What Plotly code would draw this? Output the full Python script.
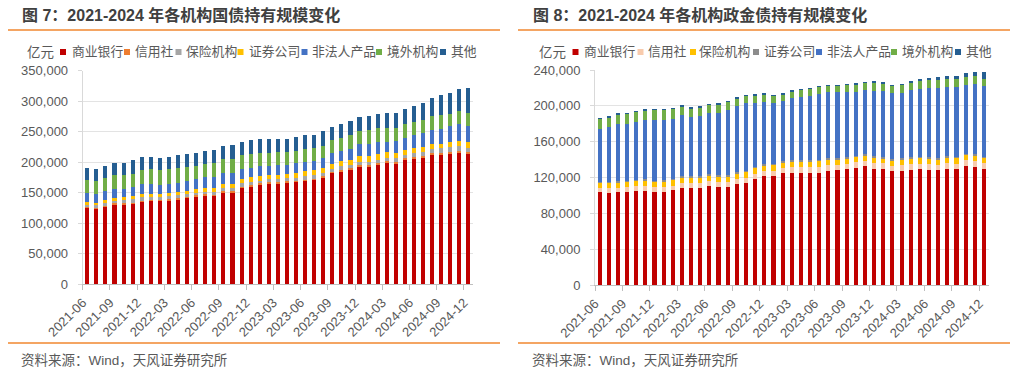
import plotly.graph_objects as go

W, H = 1014, 381

months = ["2021-06", "2021-07", "2021-08", "2021-09", "2021-10", "2021-11", "2021-12",
          "2022-01", "2022-02", "2022-03", "2022-04", "2022-05", "2022-06", "2022-07",
          "2022-08", "2022-09", "2022-10", "2022-11", "2022-12",
          "2023-01", "2023-02", "2023-03", "2023-04", "2023-05", "2023-06", "2023-07",
          "2023-08", "2023-09", "2023-10", "2023-11", "2023-12",
          "2024-01", "2024-02", "2024-03", "2024-04", "2024-05", "2024-06", "2024-07",
          "2024-08", "2024-09", "2024-10", "2024-11", "2024-12"]

tick_labels = ["2021-06", "2021-09", "2021-12", "2022-03", "2022-06", "2022-09", "2022-12",
               "2023-03", "2023-06", "2023-09", "2023-12", "2024-03", "2024-06", "2024-09",
               "2024-12"]

names_L = ["商业银行", "信用社", "保险机构", "证券公司", "非法人产品", "境外机构", "其他"]
names_R = ["商业银行", "信用社", "保险机构", "证券公司", "非法人产品", "境外机构", "其他"]

# ---- Figure 7: 国债 (亿元) ----
bank_L = [124700, 122500, 126400, 130200, 130200, 131300, 134000, 135700, 135700, 136800,
          138400, 140600, 142800, 145000, 143900, 149900, 149900, 157000, 159700, 163000,
          164600, 164600, 166300, 166800, 168500, 170100, 173900, 181600, 183800, 187100,
          192000, 192000, 194700, 198000, 197500, 203500, 205700, 207300, 211100, 211700,
          213900, 215000, 213900]
credit_L = [2000, 2000, 2100, 2100, 2200, 2200, 2300, 2300, 2300, 2400, 2400, 2400, 2500,
            2500, 2500, 2600, 2600, 2700, 2700, 2700, 2800, 2800, 2800, 2900, 2900, 2900,
            3000, 3000, 3000, 3000, 3100, 3100, 3100, 3200, 3200, 3200, 3300, 3300, 3300,
            3400, 3400, 3400, 3500]
insur_L = [3500, 4500, 5000, 4500, 6000, 6600, 7000, 5400, 5400, 5300, 5800, 4700, 4600,
           4100, 4100, 5600, 5100, 6100, 5000, 4000, 4300, 4900, 4300, 4800, 5900, 5900,
           4700, 4700, 6800, 5800, 5700, 5700, 5700, 6100, 6100, 5600, 5500, 6500, 6500,
           7500, 7000, 8100, 6300]
secur_L = [4400, 3300, 4400, 4900, 3800, 3800, 4400, 4400, 3800, 4400, 4400, 4900, 6000,
           6600, 7700, 6000, 6000, 6600, 7700, 7700, 7100, 7100, 7100, 7100, 7700, 7700,
           8800, 7700, 7700, 7700, 9300, 9300, 9800, 9300, 8200, 8200, 9300, 7100, 8200,
           7100, 8800, 8200, 8800]
prod_L = [14800, 14800, 14200, 13700, 13700, 14800, 16400, 15900, 14800, 14800, 14800,
          16400, 16400, 17000, 18100, 17500, 18600, 16400, 15900, 16400, 15300, 15900,
          15300, 16400, 15900, 15300, 17000, 17500, 16400, 18100, 19100, 19700, 19700,
          16400, 19100, 19100, 21300, 23500, 23500, 25200, 26300, 28400, 27400]
foreign_L = [21300, 21300, 22400, 23000, 22400, 22400, 23500, 25200, 25200, 24600, 24600,
             23500, 21900, 22400, 22400, 23500, 23500, 23000, 23000, 21300, 20800, 21300,
             21300, 20800, 21300, 21300, 19700, 21300, 21300, 22400, 21900, 23000, 23000,
             23000, 21900, 23000, 20800, 21900, 23000, 22400, 20200, 20200, 20200]
other_L = [20200, 20800, 19700, 20200, 20800, 22400, 20200, 20200, 19700, 20800, 20800,
           20800, 21300, 21300, 21300, 21300, 21900, 20800, 22400, 22400, 22400, 21300,
           21300, 21900, 21900, 21900, 23500, 22400, 23500, 23500, 23500, 23000, 23000,
           24100, 24100, 25200, 26300, 26800, 30100, 32300, 33400, 36100, 41000]

# ---- Figure 8: 政金债 (亿元) ----
bank_R = [103400, 102700, 103400, 104200, 104900, 104500, 104200, 104200, 105600, 108600,
          107900, 108600, 110900, 109400, 109400, 112300, 113800, 118300, 121300, 122000,
          124600, 125400, 125400, 125400, 125400, 126900, 128000, 129100, 130200, 132400,
          129800, 129800, 126900, 127600, 128300, 129800, 128700, 128000, 129800, 129100,
          132800, 132100, 129100]
credit_R = [4800, 5200, 5200, 5200, 5200, 5600, 5200, 5200, 5200, 5200, 5600, 5600, 5600,
            5600, 5600, 5600, 6000, 6000, 5600, 5600, 6300, 6700, 6700, 6700, 6700, 6700,
            5600, 6300, 7100, 6300, 6700, 6000, 6000, 6000, 6300, 5600, 6000, 6000, 6000,
            6300, 6300, 6700, 7100]
insur_R = [5200, 5600, 5200, 5200, 5600, 6000, 5600, 5600, 6000, 6000, 6000, 5600, 5600,
           6000, 6000, 6000, 6000, 6000, 6000, 6000, 5600, 5600, 5600, 5600, 6000, 6000,
           6000, 5600, 5200, 5600, 5200, 5200, 6000, 6000, 6000, 6000, 6000, 6000, 6000,
           6000, 5600, 5200, 5200]
secur_R = [1500, 1500, 1900, 1900, 1900, 1900, 1500, 1900, 1900, 1900, 1900, 1900, 1900,
           1900, 1900, 1900, 1900, 1900, 1900, 1900, 1500, 1900, 1900, 1900, 1900, 1900,
           1900, 1900, 1900, 1900, 1900, 1900, 1900, 1900, 1900, 1900, 1900, 1900, 1900,
           1900, 1900, 1900, 1900]
prod_R = [59100, 61000, 64400, 63600, 64400, 66200, 67700, 67300, 66600, 67700, 65800,
          67000, 67700, 69600, 72900, 74400, 75100, 71400, 69900, 68100, 67700, 69600,
          70700, 71800, 73700, 73700, 73700, 72900, 71400, 71100, 73300, 73700, 73300,
          73300, 75500, 75900, 77700, 78500, 77700, 77700, 77000, 78900, 78900]
foreign_R = [10800, 10800, 9700, 10400, 10800, 10400, 10800, 10800, 10800, 9700, 9700,
             9300, 9300, 8900, 8200, 7800, 8200, 7800, 7800, 7400, 6700, 6700, 7100, 7400,
             7100, 7100, 7100, 7100, 7800, 7800, 8200, 7800, 7800, 8200, 7800, 8900, 8600,
             8600, 8200, 8900, 8900, 8900, 8200]
other_R = [1900, 1900, 1900, 1900, 1500, 2200, 1500, 1500, 1500, 2200, 1900, 1900, 1500,
           1500, 1500, 1900, 1500, 1900, 1500, 1500, 1900, 1900, 1500, 1500, 1900, 1500,
           1500, 1500, 1500, 1500, 2200, 1900, 1900, 1900, 1900, 1900, 2600, 3300, 3300,
           3700, 4100, 4100, 7800]

series_L = [bank_L, credit_L, insur_L, secur_L, prod_L, foreign_L, other_L]
series_R = [bank_R, credit_R, insur_R, secur_R, prod_R, foreign_R, other_R]

colors_L = ["#C00000", "#ED7D31", "#A5A5A5", "#FFC000", "#4472C4", "#70AD47", "#255E91"]
colors_R = ["#C00000", "#F8CBAD", "#FFC000", "#8C8C8C", "#4472C4", "#70AD47", "#255E91"]

CJK = "Noto Sans CJK SC"
NUMF = "Liberation Sans, Noto Sans CJK SC"

xpos = list(range(len(months)))
tickpos = [xpos[months.index(m)] - 0.5 for m in tick_labels]

fig = go.Figure()
for nm, vals, col in zip(names_L, series_L, colors_L):
    fig.add_trace(go.Bar(x=xpos, y=vals, name=nm, marker=dict(color=col, line=dict(width=0)),
                         xaxis="x", yaxis="y", showlegend=False))
for nm, vals, col in zip(names_R, series_R, colors_R):
    fig.add_trace(go.Bar(x=xpos, y=vals, name=nm, marker=dict(color=col, line=dict(width=0)),
                         xaxis="x2", yaxis="y2", showlegend=False))


def px_x(v):
    return v / W


def px_y(v):
    return 1 - v / H


def xaxis_cfg(x0, x1, anchor):
    return dict(domain=[px_x(x0), px_x(x1)], range=[-0.5, len(months) - 0.5],
                tickmode="array", tickvals=tickpos, ticktext=tick_labels, tickangle=-45,
                ticks="outside", ticklen=5, tickcolor="#BFBFBF", showline=True,
                linecolor="#BFBFBF", linewidth=1, showgrid=False, zeroline=False,
                anchor=anchor, tickfont=dict(family=NUMF, size=13, color="#595959"),
                automargin=False, fixedrange=True)


def yaxis_cfg(y_bottom, y_top, ymax, dtick, anchor):
    return dict(domain=[px_y(y_bottom), px_y(y_top)], range=[0, ymax], dtick=dtick,
                tickformat=",", showgrid=True, gridcolor="#E3E3E3", gridwidth=1,
                showline=True, linecolor="#D9D9D9", ticks="outside", ticklen=4,
                tickcolor="#D9D9D9", zeroline=False, anchor=anchor,
                tickfont=dict(family=NUMF, size=13, color="#595959"),
                ticklabelstandoff=7, automargin=False, fixedrange=True)


annotations = []
shapes = []


def panel_decor(x_left, line_x0, line_x1, title, unit_x, legend_sq, legend_tx, names, colors):
    annotations.append(dict(text="<b>" + title + "</b>", x=px_x(x_left), y=px_y(15),
                            xref="paper", yref="paper", xanchor="left", yanchor="middle",
                            showarrow=False,
                            font=dict(family="Liberation Sans, " + CJK, size=16, color="#404040")))
    annotations.append(dict(text="资料来源：Wind，天风证券研究所", x=px_x(x_left - 1), y=px_y(360),
                            xref="paper", yref="paper", xanchor="left", yanchor="middle",
                            showarrow=False,
                            font=dict(family=NUMF, size=13.5, color="#595959")))
    annotations.append(dict(text="亿元", x=px_x(unit_x), y=px_y(51), xref="paper", yref="paper",
                            xanchor="left", yanchor="middle", showarrow=False,
                            font=dict(family=CJK, size=13.5, color="#595959")))
    for sx, tx, nm, col in zip(legend_sq, legend_tx, names, colors):
        shapes.append(dict(type="rect", xref="paper", yref="paper",
                           x0=px_x(sx), x1=px_x(sx + 6), y0=px_y(55), y1=px_y(49),
                           fillcolor=col, line=dict(width=0)))
        annotations.append(dict(text=nm, x=px_x(tx), y=px_y(51), xref="paper", yref="paper",
                                xanchor="left", yanchor="middle", showarrow=False,
                                font=dict(family=CJK, size=12.8, color="#595959")))
    for yy in (30, 343):
        shapes.append(dict(type="line", xref="paper", yref="paper",
                           x0=px_x(line_x0), x1=px_x(line_x1), y0=px_y(yy), y1=px_y(yy),
                           line=dict(color="#F0872F", width=1.5)))


panel_decor(20, 8, 500, "图 7：2021-2024 年各机构国债持有规模变化", 25,
            [60, 124, 175.5, 237.5, 301.5, 376, 440],
            [70, 132.5, 183.5, 246.5, 310, 385, 448.5], names_L, colors_L)
panel_decor(531, 518, 1010, "图 8：2021-2024 年各机构政金债持有规模变化", 537,
            [572.5, 637.5, 690, 753, 816, 891, 955],
            [581.5, 646, 697, 761.5, 825, 900, 963.5], names_R, colors_R)

fig.update_layout(
    width=W, height=H, autosize=False,
    margin=dict(l=0, r=0, t=0, b=0, pad=0, autoexpand=False),
    paper_bgcolor="white", plot_bgcolor="white",
    barmode="stack", bargap=0.55,
    showlegend=False,
    xaxis=xaxis_cfg(82.7, 473, "y"),
    yaxis=yaxis_cfg(284, 70.7, 350000, 50000, "x"),
    xaxis2=xaxis_cfg(595, 988.5, "y2"),
    yaxis2=yaxis_cfg(285, 70, 240000, 40000, "x2"),
    annotations=annotations,
    shapes=shapes,
)

fig.write_html("out.html",
               config={"displayModeBar": False, "staticPlot": True},
               post_script="document.body.style.margin='0';document.body.style.overflow='hidden';")
